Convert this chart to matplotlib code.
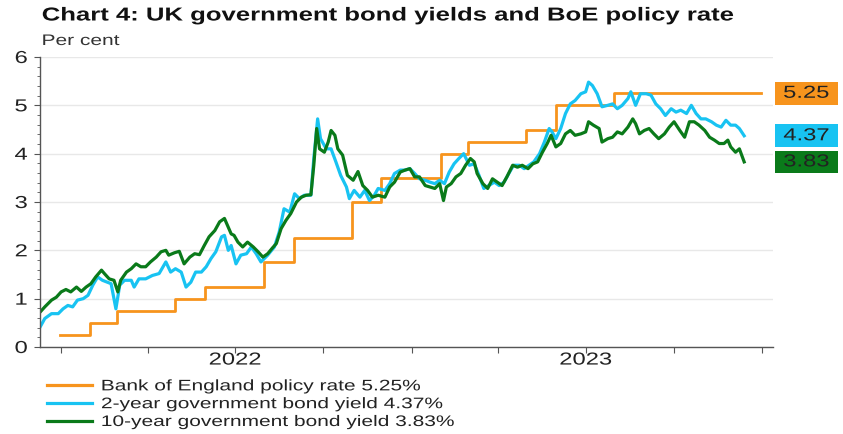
import numpy as np
import pandas as pd
import matplotlib
matplotlib.use("Agg")
import matplotlib.pyplot as plt
import matplotlib.dates as mdates
import matplotlib.transforms as mtransforms
from matplotlib import patheffects
from matplotlib.patches import Rectangle
from matplotlib.ticker import MultipleLocator
from matplotlib.lines import Line2D

plt.rcParams['font.family'] = ['Liberation Sans', 'DejaVu Sans']

# Bank Rate, month-end values (step line)
rate_dates = ['2021-12-31', '2022-01-31', '2022-02-28', '2022-04-30', '2022-05-31',
              '2022-07-31', '2022-08-31', '2022-10-31', '2022-11-30', '2023-01-31',
              '2023-02-28', '2023-04-30', '2023-05-31', '2023-07-31', '2023-12-31']
rate_vals = [0.25, 0.5, 0.75, 1.0, 1.25, 1.75, 2.25, 3.0, 3.5, 4.0,
             4.25, 4.5, 5.0, 5.25, 5.25]

# 2-year gilt yield
y2_dates = ['2021-12-10', '2021-12-15', '2021-12-22', '2021-12-29', '2022-01-03', '2022-01-08',
            '2022-01-13', '2022-01-18', '2022-01-24', '2022-01-29', '2022-02-03', '2022-02-08',
            '2022-02-13', '2022-02-18', '2022-02-22', '2022-02-27', '2022-03-03', '2022-03-08',
            '2022-03-15', '2022-03-18', '2022-03-23', '2022-03-30', '2022-04-06', '2022-04-13',
            '2022-04-20', '2022-04-25', '2022-04-30', '2022-05-06', '2022-05-11', '2022-05-16',
            '2022-05-21', '2022-05-27', '2022-06-01', '2022-06-06', '2022-06-11', '2022-06-17',
            '2022-06-20', '2022-06-24', '2022-06-27', '2022-07-02', '2022-07-07', '2022-07-13',
            '2022-07-18', '2022-07-23', '2022-07-28', '2022-08-04', '2022-08-11', '2022-08-16',
            '2022-08-21', '2022-08-27', '2022-09-01', '2022-09-06', '2022-09-11', '2022-09-18',
            '2022-09-21', '2022-09-25', '2022-09-28', '2022-10-04', '2022-10-09', '2022-10-14',
            '2022-10-19', '2022-10-25', '2022-10-28', '2022-11-02', '2022-11-08', '2022-11-13',
            '2022-11-18', '2022-11-23', '2022-11-27', '2022-12-04', '2022-12-09', '2022-12-14',
            '2022-12-20', '2022-12-25', '2022-12-30', '2023-01-04', '2023-01-09', '2023-01-15',
            '2023-01-20', '2023-01-25', '2023-01-30', '2023-02-04', '2023-02-09', '2023-02-14',
            '2023-02-19', '2023-02-24', '2023-03-02', '2023-03-07', '2023-03-12', '2023-03-17',
            '2023-03-22', '2023-03-28', '2023-04-02', '2023-04-07', '2023-04-12', '2023-04-17',
            '2023-04-23', '2023-04-28', '2023-05-03', '2023-05-08', '2023-05-14', '2023-05-19',
            '2023-05-24', '2023-05-27', '2023-05-31', '2023-06-05', '2023-06-10', '2023-06-15',
            '2023-06-20', '2023-06-26', '2023-07-01', '2023-07-04', '2023-07-08', '2023-07-13',
            '2023-07-18', '2023-07-24', '2023-07-29', '2023-08-03', '2023-08-08', '2023-08-14',
            '2023-08-17', '2023-08-22', '2023-08-27', '2023-09-02', '2023-09-07', '2023-09-12',
            '2023-09-17', '2023-09-22', '2023-09-28', '2023-10-03', '2023-10-08', '2023-10-14',
            '2023-10-19', '2023-10-24', '2023-10-29', '2023-11-03', '2023-11-09', '2023-11-14',
            '2023-11-19', '2023-11-24', '2023-11-29', '2023-12-04', '2023-12-08', '2023-12-13']
y2_vals = [0.41, 0.59, 0.69, 0.69, 0.79, 0.86,
           0.83, 0.97, 1.00, 1.07, 1.28, 1.45,
           1.38, 1.34, 1.31, 0.79, 1.28, 1.38,
           1.38, 1.24, 1.41, 1.41, 1.48, 1.52,
           1.76, 1.55, 1.62, 1.55, 1.24, 1.34,
           1.55, 1.55, 1.66, 1.83, 1.97, 2.28,
           2.31, 2.00, 2.10, 1.72, 1.90, 1.93,
           2.07, 1.93, 1.76, 1.90, 2.07, 2.38,
           2.86, 2.79, 3.17, 3.07, 3.14, 3.14,
           3.90, 4.72, 4.31, 4.10, 4.10, 3.83,
           3.55, 3.31, 3.07, 3.24, 3.10, 3.24,
           3.03, 3.14, 3.28, 3.24, 3.38, 3.59,
           3.66, 3.66, 3.69, 3.59, 3.48, 3.45,
           3.41, 3.38, 3.45, 3.38, 3.62, 3.79,
           3.90, 4.00, 3.76, 3.79, 3.55, 3.28,
           3.34, 3.41, 3.34, 3.41, 3.59, 3.76,
           3.76, 3.69, 3.76, 3.83, 4.00, 4.24,
           4.52, 4.45, 4.31, 4.52, 4.83, 5.03,
           5.10, 5.24, 5.28, 5.48, 5.41, 5.24,
           4.97, 5.00, 5.03, 4.93, 5.00, 5.14,
           5.28, 5.00, 5.24, 5.24, 5.21, 5.03,
           4.93, 4.79, 4.93, 4.86, 4.90, 4.83,
           5.00, 4.83, 4.72, 4.72, 4.66, 4.59,
           4.55, 4.69, 4.59, 4.59, 4.52, 4.37]

# 10-year gilt yield
y10_dates = ['2021-12-10', '2021-12-15', '2021-12-22', '2021-12-27', '2022-01-01', '2022-01-06',
             '2022-01-11', '2022-01-17', '2022-01-22', '2022-01-27', '2022-02-01', '2022-02-06',
             '2022-02-12', '2022-02-15', '2022-02-20', '2022-02-25', '2022-03-01', '2022-03-04',
             '2022-03-10', '2022-03-15', '2022-03-20', '2022-03-25', '2022-03-30', '2022-04-04',
             '2022-04-10', '2022-04-15', '2022-04-20', '2022-04-23', '2022-04-29', '2022-05-04',
             '2022-05-09', '2022-05-15', '2022-05-20', '2022-05-25', '2022-05-30', '2022-06-04',
             '2022-06-10', '2022-06-15', '2022-06-20', '2022-06-24', '2022-06-27', '2022-06-30',
             '2022-07-04', '2022-07-09', '2022-07-14', '2022-07-20', '2022-07-25', '2022-07-30',
             '2022-08-04', '2022-08-09', '2022-08-13', '2022-08-18', '2022-08-23', '2022-08-28',
             '2022-09-03', '2022-09-08', '2022-09-13', '2022-09-18', '2022-09-21', '2022-09-24',
             '2022-09-27', '2022-10-02', '2022-10-06', '2022-10-09', '2022-10-13', '2022-10-16',
             '2022-10-21', '2022-10-26', '2022-11-01', '2022-11-06', '2022-11-11', '2022-11-16',
             '2022-11-21', '2022-11-27', '2022-12-04', '2022-12-09', '2022-12-14', '2022-12-20',
             '2022-12-25', '2022-12-30', '2023-01-04', '2023-01-09', '2023-01-15', '2023-01-20',
             '2023-01-25', '2023-01-30', '2023-02-03', '2023-02-06', '2023-02-11', '2023-02-16',
             '2023-02-21', '2023-02-26', '2023-03-03', '2023-03-07', '2023-03-10', '2023-03-16',
             '2023-03-21', '2023-03-26', '2023-03-31', '2023-04-05', '2023-04-10', '2023-04-16',
             '2023-04-21', '2023-04-26', '2023-05-02', '2023-05-07', '2023-05-12', '2023-05-17',
             '2023-05-22', '2023-05-26', '2023-05-31', '2023-06-05', '2023-06-10', '2023-06-15',
             '2023-06-20', '2023-06-26', '2023-07-01', '2023-07-04', '2023-07-09', '2023-07-15',
             '2023-07-18', '2023-07-24', '2023-07-29', '2023-08-03', '2023-08-08', '2023-08-14',
             '2023-08-19', '2023-08-22', '2023-08-26', '2023-08-31', '2023-09-05', '2023-09-10',
             '2023-09-15', '2023-09-21', '2023-09-26', '2023-10-01', '2023-10-07', '2023-10-12',
             '2023-10-17', '2023-10-22', '2023-10-27', '2023-11-02', '2023-11-07', '2023-11-12',
             '2023-11-17', '2023-11-22', '2023-11-26', '2023-11-29', '2023-12-04', '2023-12-08',
             '2023-12-13']
y10_vals = [0.72, 0.83, 0.97, 1.03, 1.14, 1.19,
            1.14, 1.24, 1.15, 1.24, 1.31, 1.45,
            1.59, 1.52, 1.41, 1.38, 1.14, 1.38,
            1.55, 1.62, 1.72, 1.66, 1.66, 1.76,
            1.86, 1.97, 2.00, 1.90, 1.95, 1.98,
            1.72, 1.86, 1.93, 1.91, 2.10, 2.28,
            2.41, 2.59, 2.66, 2.48, 2.34, 2.31,
            2.17, 2.07, 2.17, 2.07, 1.97, 1.86,
            1.93, 2.05, 2.14, 2.45, 2.62, 2.76,
            3.00, 3.10, 3.14, 3.15, 3.76, 4.52,
            4.10, 4.03, 4.24, 4.48, 4.38, 4.10,
            3.97, 3.55, 3.45, 3.63, 3.34, 3.24,
            3.10, 3.14, 3.10, 3.31, 3.41, 3.62,
            3.66, 3.69, 3.52, 3.52, 3.34, 3.31,
            3.28, 3.38, 3.03, 3.31, 3.38, 3.52,
            3.59, 3.76, 3.90, 3.83, 3.59, 3.38,
            3.28, 3.48, 3.41, 3.34, 3.52, 3.76,
            3.72, 3.76, 3.69, 3.79, 3.83, 4.03,
            4.21, 4.38, 4.14, 4.21, 4.41, 4.48,
            4.38, 4.41, 4.45, 4.66, 4.59, 4.52,
            4.24, 4.31, 4.34, 4.45, 4.41, 4.55,
            4.72, 4.62, 4.41, 4.48, 4.52, 4.41,
            4.31, 4.41, 4.55, 4.66, 4.48, 4.34,
            4.66, 4.66, 4.59, 4.48, 4.34, 4.28,
            4.21, 4.21, 4.28, 4.14, 4.03, 4.10,
            3.83]

orange = '#F7941D'
blue = '#18C3F2'
green = '#0A7A1A'
text_col = '#222222'


class Stretch(patheffects.AbstractPathEffect):
    """Draw text glyphs widened horizontally (anchor: 0 left, 0.5 centre, 1 right)."""

    def __init__(self, sx=1.37, anchor=0.0):
        super().__init__()
        self.sx = sx
        self.anchor = anchor

    def draw_path(self, renderer, gc, tpath, affine, rgbFace=None):
        ext = tpath.get_extents()
        xa = ext.x0 + self.anchor * ext.width
        tr = mtransforms.Affine2D().translate(-xa, 0).scale(self.sx, 1).translate(xa, 0) + affine
        renderer.draw_path(gc, tpath, tr, rgbFace)


fig = plt.figure(figsize=(8.43, 4.35), dpi=100)
ax = fig.add_axes([40 / 843, 87 / 435, 733 / 843, 290 / 435])

ax.plot(pd.to_datetime(rate_dates), rate_vals, color=orange, lw=2.0, drawstyle='steps-post')
ax.plot(pd.to_datetime(y2_dates), y2_vals, color=blue, lw=2.3)
ax.plot(pd.to_datetime(y10_dates), y10_vals, color=green, lw=2.3)

ax.set_ylim(0, 6)
ax.set_xlim(pd.Timestamp('2021-12-10'), pd.Timestamp('2024-01-12'))

# gridlines and spines
ax.yaxis.set_major_locator(MultipleLocator(1))
ax.yaxis.set_minor_locator(MultipleLocator(0.2))
ax.grid(axis='y', which='major', color='#e8e8e8', lw=1)
ax.set_axisbelow(True)
for s in ['top', 'right']:
    ax.spines[s].set_visible(False)
for s in ['left', 'bottom']:
    ax.spines[s].set_color('#555555')
    ax.spines[s].set_linewidth(1)

ax.tick_params(axis='y', which='major', length=4, color='#555555', labelsize=12.5,
               labelcolor=text_col, pad=5)
ax.tick_params(axis='y', which='minor', length=2, color='#555555')

# quarterly ticks, year labels in the middle of each year
ax.xaxis.set_major_locator(mdates.MonthLocator(bymonth=[1, 4, 7, 10]))
ax.xaxis.set_major_formatter(plt.NullFormatter())
ax.xaxis.set_minor_locator(mdates.MonthLocator(bymonth=[7]))
ax.xaxis.set_minor_formatter(mdates.DateFormatter('%Y'))
ax.xaxis.remove_overlapping_locs = False
ax.tick_params(axis='x', which='major', length=4, color='#555555')
ax.tick_params(axis='x', which='minor', length=0, pad=4, labelsize=12.5, labelcolor=text_col)

for lab in ax.get_yticklabels():
    lab.set_path_effects([Stretch(anchor=1.0)])
for lab in ax.get_xticklabels(minor=True):
    lab.set_path_effects([Stretch(anchor=0.5)])

# latest values in coloured boxes to the right of the plot
trans = mtransforms.blended_transform_factory(ax.transAxes, ax.transData)
for vals, c in [(rate_vals, orange), (y2_vals, blue), (y10_vals, green)]:
    ax.add_patch(Rectangle((1.003, vals[-1] - 0.235), 0.085, 0.47, transform=trans,
                           facecolor=c, edgecolor='none', clip_on=False))
    ax.text(1.0455, vals[-1], f'{vals[-1]:.2f}', transform=trans, ha='center', va='center',
            fontsize=12.5, color=text_col, clip_on=False,
            path_effects=[Stretch(anchor=0.5)])

fig.text(42 / 843, 1 - 17 / 435, 'Chart 4: UK government bond yields and BoE policy rate',
         fontsize=13.5, fontweight='bold', color='#111111', va='center',
         path_effects=[Stretch()])
fig.text(42 / 843, 1 - 42 / 435, 'Per cent', fontsize=11, color='#333333', va='center',
         path_effects=[Stretch()])

handles = [Line2D([], [], color=orange, lw=2.3),
           Line2D([], [], color=blue, lw=2.3),
           Line2D([], [], color=green, lw=2.3)]
labels = ['Bank of England policy rate 5.25%',
          '2-year government bond yield 4.37%',
          '10-year government bond yield 3.83%']
leg = fig.legend(handles, labels, loc='lower left', bbox_to_anchor=(47 / 843, 5 / 435),
                 frameon=False, fontsize=11, handlelength=2.95, handletextpad=0.6,
                 labelspacing=0.25, borderpad=0, borderaxespad=0, labelcolor=text_col)
for t in leg.get_texts():
    t.set_path_effects([Stretch()])

fig.savefig('out.png', dpi=100)
